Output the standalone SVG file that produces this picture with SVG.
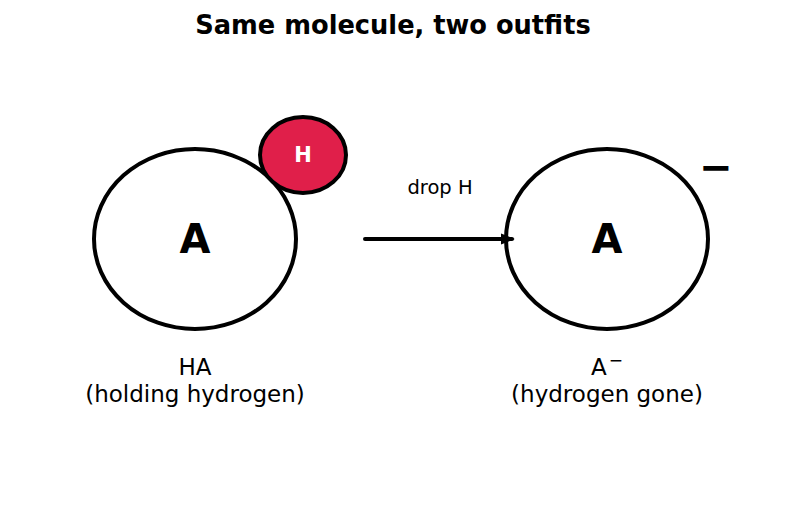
<svg xmlns="http://www.w3.org/2000/svg" width="787" height="512" viewBox="0 0 787 512">
<defs>
<style>
text{font-family:"DejaVu Sans","Liberation Sans",sans-serif;fill:#000;text-anchor:middle}
.ring{fill:#fff;stroke:#000;stroke-width:4}
.big{font-size:40px;font-weight:bold}
.lab{font-size:23px}
</style>
<marker id="ah" viewBox="0 0 10 10" refX="8" refY="5" markerWidth="3.5" markerHeight="3.5" orient="auto" markerUnits="strokeWidth">
<path d="M0,1 L10,5 L0,9 Z" fill="#000"/>
</marker>
</defs>
<rect width="787" height="512" fill="#fff"/>
<text x="393" y="34" style="font-size:25.7px;font-weight:bold">Same molecule, two outfits</text>
<g id="node-HA">
<ellipse class="ring" cx="195" cy="239" rx="101" ry="90"/>
<text class="big" x="195" y="253">A</text>
<text class="lab" x="195" y="375">HA</text>
<text class="lab" x="195" y="402">(holding hydrogen)</text>
</g>
<g id="node-H">
<ellipse cx="303" cy="155" rx="43" ry="38" fill="#E01F4A" stroke="#000" stroke-width="4"/>
<text x="303" y="162" style="font-size:21px;font-weight:bold;fill:#fff">H</text>
</g>
<g id="node-A">
<ellipse class="ring" cx="607" cy="239" rx="101" ry="90"/>
<text class="big" x="607" y="253">A</text>
<text x="716" y="181" style="font-size:40px;font-weight:bold">−</text>
<text class="lab" x="607" y="375">A<tspan dx="2" dy="-9" font-size="17">−</tspan></text>
<text class="lab" x="607" y="402">(hydrogen gone)</text>
</g>
<g id="connectors">
<line x1="365" y1="239" x2="512" y2="239" stroke="#000" stroke-width="4" stroke-linecap="round" marker-end="url(#ah)"/>
<text x="440" y="194" style="font-size:19.5px">drop H</text>
</g>
</svg>
